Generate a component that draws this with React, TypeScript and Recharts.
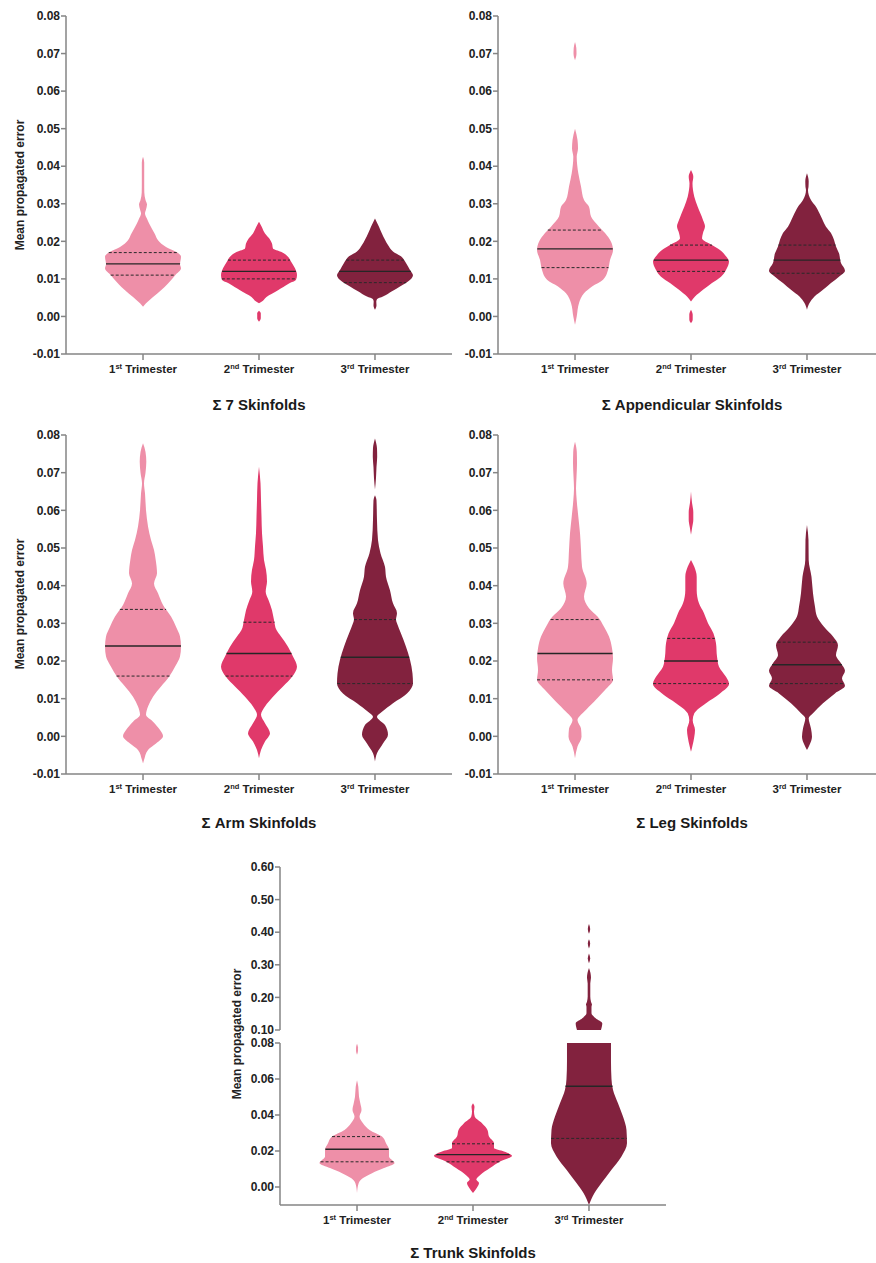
import React from 'react';
import { ComposedChart, Area, XAxis, YAxis, ReferenceLine } from 'recharts';

type Pt = [number, number];
type Seg = Pt[];
type Violin = { segs: Seg[]; q1: number; med: number; q3: number | null };

// ---------- categories & labels ----------
const catNums = [1, 2, 3];
const ordinals = ['1', '2', '3'];
const suffixes = ['st', 'nd', 'rd'];
const catWord = 'Trimester';
const colors = ['#EE8FA8', '#E0396A', '#82223E'];
const titles = ['\u03A3 7 Skinfolds', '\u03A3 Appendicular Skinfolds', '\u03A3 Arm Skinfolds', '\u03A3 Leg Skinfolds', '\u03A3 Trunk Skinfolds'];
const yLabel = 'Mean propagated error';
const ticksSmall = [-0.01, 0, 0.01, 0.02, 0.03, 0.04, 0.05, 0.06, 0.07, 0.08];
const ticksTrunkLow = [0, 0.02, 0.04, 0.06, 0.08];
const ticksTrunkHigh = [0.1, 0.2, 0.3, 0.4, 0.5, 0.6];

// ---------- violin profiles: [value, half-width density] ----------
const sk7_t1: Seg[] = [[[0.0425, 0], [0.041, 1.2], [0.038, 1.2], [0.0355, 1.2], [0.033, 1.3], [0.031, 2.5], [0.0298, 4], [0.0285, 3], [0.0274, 2], [0.026, 4], [0.0248, 6], [0.022, 11.7], [0.0203, 15], [0.0185, 23], [0.0169, 35], [0.0159, 38], [0.0139, 37], [0.0128, 38], [0.0109, 32], [0.0088, 25], [0.007, 18], [0.0052, 10], [0.0035, 3], [0.0026, 0]]];
const sk7_t2: Seg[] = [
  [[0.0252, 0], [0.0239, 2.7], [0.0221, 6], [0.0207, 10.5], [0.0194, 13], [0.0181, 14], [0.0172, 22], [0.0159, 29], [0.0146, 32], [0.0128, 36], [0.011, 38], [0.0098, 37], [0.0088, 30], [0.007, 19], [0.0052, 7.5], [0.0039, 2.5], [0.0035, 0]],
  [[0.0015, 0], [0.0008, 1.8], [-0.0005, 1.8], [-0.0014, 0]],
];
const sk7_t3: Seg[] = [[[0.0261, 0], [0.0239, 4], [0.0222, 6.7], [0.0204, 10], [0.019, 13], [0.0173, 18], [0.016, 26], [0.0142, 31], [0.0124, 35], [0.011, 38], [0.0093, 33], [0.008, 25], [0.0067, 17], [0.0053, 8], [0.0046, 2], [0.004, 1.3], [0.003, 1.5], [0.0018, 0]]];

const app_t1: Seg[] = [
  [[0.0731, 0], [0.0715, 1.3], [0.07, 1.5], [0.0682, 0]],
  [[0.05, 0], [0.047, 2.5], [0.0447, 3], [0.0425, 1.7], [0.0381, 3.3], [0.0346, 6], [0.031, 9], [0.0292, 14], [0.0266, 16], [0.0239, 24], [0.0222, 30], [0.0199, 36], [0.0177, 38], [0.015, 35], [0.0124, 33], [0.0098, 28], [0.008, 17], [0.0062, 9], [0.0036, 4], [0.0, 1.7], [-0.0022, 0]],
];
const app_t2: Seg[] = [
  [[0.039, 0], [0.0372, 2.3], [0.0354, 1.5], [0.0319, 3.3], [0.0292, 6.7], [0.0257, 12], [0.024, 14], [0.0222, 12], [0.0208, 11], [0.019, 21], [0.0177, 29], [0.016, 35], [0.0146, 38], [0.0124, 35], [0.0106, 30], [0.0089, 21], [0.0071, 12], [0.0053, 4], [0.004, 0]],
  [[0.0018, 0], [0.0005, 1.7], [-0.0008, 1.7], [-0.0018, 0]],
];
const app_t3: Seg[] = [[[0.0381, 0], [0.036, 1.7], [0.0345, 1.5], [0.0337, 1], [0.031, 4], [0.0292, 9], [0.0266, 14], [0.0239, 19], [0.0222, 24], [0.0204, 27], [0.0186, 29], [0.0168, 32], [0.0142, 34], [0.0122, 38], [0.0106, 32], [0.0089, 24], [0.0071, 16], [0.0053, 7.5], [0.0036, 2.5], [0.0018, 0]]];

const arm_t1: Seg[] = [[[0.0778, 0], [0.0755, 2.5], [0.0729, 3.3], [0.07, 2.5], [0.0672, 1], [0.0645, 2], [0.06, 3], [0.0557, 5], [0.0521, 8], [0.0495, 11], [0.0468, 12.7], [0.0433, 14], [0.0406, 11], [0.038, 15], [0.0349, 20], [0.0318, 28], [0.0291, 33], [0.0265, 37], [0.0238, 38], [0.0212, 37], [0.0185, 32], [0.0158, 26], [0.0132, 18], [0.0105, 10], [0.0079, 5], [0.0057, 3], [0.0039, 10], [0.0017, 17], [0.0001, 20], [-0.0019, 13], [-0.0036, 5], [-0.0063, 1], [-0.0072, 0]]];
const arm_t2: Seg[] = [[[0.0716, 0], [0.0672, 1.5], [0.0627, 2], [0.0583, 2.5], [0.0539, 3], [0.0504, 4], [0.0468, 5], [0.0442, 7], [0.0411, 8], [0.0384, 6.7], [0.0362, 9.5], [0.0335, 13], [0.0309, 15], [0.0282, 17.5], [0.0265, 22], [0.0238, 29], [0.0212, 34], [0.0185, 38], [0.0158, 33], [0.0132, 24], [0.0105, 14], [0.0079, 6], [0.0057, 2], [0.0035, 6], [0.0008, 11], [-0.0014, 6], [-0.0036, 2], [-0.0058, 0]]];
const arm_t3: Seg[] = [
  [[0.0791, 0], [0.0765, 2], [0.0742, 2.2], [0.0715, 1.5], [0.0685, 1], [0.0655, 0]],
  [[0.064, 0], [0.0627, 1.5], [0.0574, 2], [0.0521, 3], [0.0486, 5.5], [0.045, 10], [0.0424, 11], [0.0388, 15], [0.0353, 18], [0.0327, 22], [0.031, 21], [0.03, 22], [0.0273, 26], [0.0238, 31], [0.0203, 35], [0.0167, 37.5], [0.0141, 38], [0.0114, 32], [0.0088, 18], [0.0065, 7], [0.0052, 2], [0.003, 10], [0.0004, 13], [-0.0019, 8], [-0.0045, 2], [-0.0067, 0]],
];

const leg_t1: Seg[] = [[[0.0782, 0], [0.0755, 1.8], [0.0725, 2], [0.069, 1.5], [0.0658, 1], [0.0627, 1.7], [0.0583, 3.3], [0.0539, 5], [0.0495, 6], [0.045, 7], [0.0406, 11.7], [0.0371, 9], [0.034, 14], [0.0318, 22.5], [0.0291, 29], [0.0265, 34], [0.0234, 37], [0.0207, 38], [0.0176, 37], [0.015, 38], [0.0123, 30], [0.0092, 19], [0.0065, 9], [0.0043, 2.5], [0.0021, 6], [-0.0001, 6.5], [-0.0027, 2.5], [-0.0058, 0]]];
const leg_t2: Seg[] = [
  [[0.065, 0], [0.062, 1], [0.0595, 2.3], [0.0575, 2.3], [0.0555, 1.2], [0.0535, 0]],
  [[0.0468, 0], [0.045, 3.3], [0.0424, 5.7], [0.0388, 5.7], [0.0353, 8], [0.0327, 13], [0.03, 17], [0.0273, 22.5], [0.0247, 25], [0.0212, 26], [0.0185, 28], [0.0158, 35], [0.0139, 38], [0.0114, 29], [0.0088, 15], [0.0061, 3.3], [0.0043, 1.7], [0.0017, 4], [-0.0001, 3.3], [-0.0027, 1.3], [-0.0041, 0]],
];
const leg_t3: Seg[] = [[[0.0561, 0], [0.0521, 1.5], [0.0468, 1.7], [0.0424, 4.5], [0.038, 6], [0.0344, 8], [0.0318, 10], [0.0291, 17], [0.0265, 26], [0.0242, 31], [0.0216, 29], [0.0194, 34], [0.0174, 38], [0.0154, 35], [0.0134, 38], [0.0114, 28], [0.0088, 16], [0.0061, 6], [0.0048, 1.7], [0.0021, 4], [-0.0001, 5], [-0.0023, 2.5], [-0.0036, 0]]];

const trunk_t1: Seg[] = [
  [[0.0796, 0], [0.0775, 1], [0.0755, 1], [0.0735, 0]],
  [[0.0593, 0], [0.0557, 1.3], [0.0501, 2], [0.0465, 3.3], [0.0428, 4.5], [0.0391, 2.5], [0.0354, 6], [0.0317, 12.5], [0.028, 25], [0.0243, 29], [0.0206, 32], [0.017, 32], [0.0133, 37.5], [0.0105, 27], [0.0077, 15], [0.005, 6], [0.0022, 1.7], [-0.0033, 0]],
];
const trunk_t2: Seg[] = [[[0.0465, 0], [0.0445, 1.5], [0.042, 1], [0.0391, 1.7], [0.0354, 9], [0.0317, 14.5], [0.028, 16], [0.0243, 21], [0.0216, 21], [0.0197, 31], [0.0173, 39], [0.0142, 27], [0.0105, 17], [0.0068, 7.5], [0.0041, 3.3], [0.0022, 6], [-0.0006, 3.7], [-0.0033, 0]]];
const trunk_t3: Seg[] = [
  [[0.08, 22], [0.07, 22], [0.06, 22.5], [0.054, 24], [0.0465, 29], [0.0391, 34], [0.0317, 37.5], [0.0243, 38], [0.017, 32.5], [0.0096, 22.5], [0.0022, 12.5], [-0.0033, 5.5], [-0.01, 0]],
  [[0.425, 0], [0.41, 1.2], [0.395, 0]],
  [[0.378, 0], [0.365, 1.2], [0.35, 0]],
  [[0.335, 0], [0.32, 1.2], [0.305, 0]],
  [[0.29, 0], [0.275, 1.5], [0.26, 2], [0.243, 1.3], [0.2025, 1.3], [0.187, 2], [0.178, 3], [0.1717, 2.5], [0.1512, 2.5], [0.1359, 6.7], [0.1205, 13.3], [0.1, 12]],
];

// quartiles: [q1, median, q3]
const sk7_q = [[0.011, 0.014, 0.017], [0.01, 0.012, 0.015], [0.009, 0.012, 0.015]];
const app_q = [[0.013, 0.018, 0.023], [0.012, 0.015, 0.019], [0.0115, 0.015, 0.019]];
const arm_q = [[0.016, 0.024, 0.0337], [0.016, 0.022, 0.0303], [0.014, 0.021, 0.031]];
const leg_q = [[0.015, 0.022, 0.031], [0.014, 0.02, 0.026], [0.014, 0.019, 0.025]];
const trunk_q = [[0.014, 0.021, 0.028], [0.014, 0.018, 0.024], [0.027, 0.056, null]];

const mk = (segs: Seg[][], q: (number | null)[][]): Violin[] =>
  segs.map((s, i) => ({ segs: s, q1: q[i][0] as number, med: q[i][1] as number, q3: q[i][2] }));

const sk7 = mk([sk7_t1, sk7_t2, sk7_t3], sk7_q);
const app = mk([app_t1, app_t2, app_t3], app_q);
const arm = mk([arm_t1, arm_t2, arm_t3], arm_q);
const leg = mk([leg_t1, leg_t2, leg_t3], leg_q);
const trunk = mk([trunk_t1, trunk_t2, trunk_t3], trunk_q);

// ---------- helpers ----------
const DENS_SCALE = 116;
const FONT = '"Liberation Sans", Arial, Helvetica, sans-serif';
const AXIS_COLOR = '#858585';

function segRows(seg: Seg, center: number) {
  return [...seg]
    .sort((a, b) => b[0] - a[0])
    .map(([v, w]) => ({ v, r: [center - w / DENS_SCALE, center + w / DENS_SCALE] }));
}

function halfAt(segs: Seg[], q: number) {
  for (const seg of segs) {
    const s = [...seg].sort((a, b) => a[0] - b[0]);
    for (let i = 0; i < s.length - 1; i++) {
      if (q >= s[i][0] && q <= s[i + 1][0]) {
        const t = (q - s[i][0]) / (s[i + 1][0] - s[i][0]);
        return (s[i][1] + t * (s[i + 1][1] - s[i][1])) / DENS_SCALE;
      }
    }
  }
  return 0;
}

const TrimesterTick = (props: any) => {
  const { x, y, payload } = props;
  const i = Math.round(payload.value) - 1;
  return (
    <text x={x} y={y} dy={11} textAnchor="middle" fontSize={11.5} fontWeight="bold" fill="#222" fontFamily={FONT}>
      <tspan>{ordinals[i]}</tspan>
      <tspan dy={-4} fontSize={7.5}>{suffixes[i]}</tspan>
      <tspan dy={4}>{' ' + catWord}</tspan>
    </text>
  );
};

type PanelProps = {
  left: number;
  top: number;
  height: number;
  violins: Violin[];
  domain: [number, number];
  ticks: number[];
  hideX?: boolean;
  bottom?: number;
};

function ViolinPanel({ left, top, height, violins, domain, ticks, hideX, bottom = 0 }: PanelProps) {
  const inDom = (seg: Seg) => seg.every(([v]) => v >= domain[0] - 1e-9 && v <= domain[1] + 1e-9);
  const inRange = (v: number | null) => v != null && v >= domain[0] && v <= domain[1];
  return (
    <div style={{ position: 'absolute', left, top }}>
      <ComposedChart layout="vertical" width={460} height={height} margin={{ top: 16, right: 8, bottom, left: 0 }}>
        <XAxis
          type="number"
          domain={[0.336, 3.664]}
          allowDataOverflow
          ticks={catNums}
          tick={<TrimesterTick />}
          tickSize={6}
          tickMargin={2}
          height={26}
          hide={hideX}
          axisLine={{ stroke: AXIS_COLOR, strokeWidth: 1.5 }}
          tickLine={{ stroke: AXIS_COLOR, strokeWidth: 1.5 }}
          interval={0}
        />
        <YAxis
          type="number"
          dataKey="v"
          domain={domain}
          reversed
          allowDataOverflow
          ticks={ticks}
          interval={0}
          width={66}
          tickSize={5}
          tickMargin={1}
          tickFormatter={(t: number) => t.toFixed(2)}
          tick={{ fontSize: 12, fontWeight: 'bold', fill: '#222', fontFamily: FONT }}
          axisLine={{ stroke: AXIS_COLOR, strokeWidth: 1.5 }}
          tickLine={{ stroke: AXIS_COLOR, strokeWidth: 1.5 }}
        />
        {violins.map((vl, i) =>
          vl.segs.filter(inDom).map((seg, j) => (
            <Area
              key={`a${i}-${j}`}
              data={segRows(seg, catNums[i])}
              dataKey="r"
              type="monotone"
              fill={colors[i]}
              fillOpacity={1}
              stroke="none"
              dot={false}
              activeDot={false}
              isAnimationActive={false}
            />
          ))
        )}
        {violins.map((vl, i) => {
          const c = catNums[i];
          const lines: any[] = [];
          [vl.q1, vl.q3].forEach((q, k) => {
            if (inRange(q)) {
              const w = halfAt(vl.segs, q as number);
              lines.push(
                <ReferenceLine
                  key={`q${i}-${k}`}
                  segment={[{ x: c - w, y: q as number }, { x: c + w, y: q as number }]}
                  stroke="#2a2a2a"
                  strokeWidth={1}
                  strokeDasharray="3 2"
                />
              );
            }
          });
          if (inRange(vl.med)) {
            const w = halfAt(vl.segs, vl.med);
            lines.push(
              <ReferenceLine
                key={`m${i}`}
                segment={[{ x: c - w, y: vl.med }, { x: c + w, y: vl.med }]}
                stroke="#262626"
                strokeWidth={1.4}
              />
            );
          }
          return lines;
        })}
      </ComposedChart>
    </div>
  );
}

const Title = ({ cx, cy, text }: { cx: number; cy: number; text: string }) => (
  <div
    style={{
      position: 'absolute',
      left: cx - 150,
      top: cy - 10,
      width: 300,
      height: 20,
      lineHeight: '20px',
      textAlign: 'center',
      fontSize: 15,
      fontWeight: 'bold',
      color: '#1a1a1a',
      fontFamily: FONT,
    }}
  >
    {text}
  </div>
);

const YLabel = ({ cx, cy }: { cx: number; cy: number }) => (
  <div
    style={{
      position: 'absolute',
      left: cx - 100,
      top: cy - 8,
      width: 200,
      height: 16,
      lineHeight: '16px',
      textAlign: 'center',
      fontSize: 12,
      fontWeight: 'bold',
      color: '#222',
      fontFamily: FONT,
      transform: 'rotate(-90deg)',
    }}
  >
    {yLabel}
  </div>
);

export default function App() {
  return (
    <div
      style={{
        position: 'absolute',
        left: 0,
        top: 0,
        width: 876,
        height: 1263,
        overflow: 'hidden',
        background: '#fff',
        fontFamily: FONT,
      }}
    >
      <ViolinPanel left={0} top={0} height={380} violins={sk7} domain={[-0.01, 0.08]} ticks={ticksSmall} />
      <ViolinPanel left={432} top={0} height={380} violins={app} domain={[-0.01, 0.08]} ticks={ticksSmall} />
      <ViolinPanel left={0} top={419} height={381} violins={arm} domain={[-0.01, 0.08]} ticks={ticksSmall} />
      <ViolinPanel left={432} top={419} height={381} violins={leg} domain={[-0.01, 0.08]} ticks={ticksSmall} />
      <ViolinPanel left={214} top={1027} height={204} violins={trunk} domain={[-0.01, 0.08]} ticks={ticksTrunkLow} />
      <ViolinPanel left={214} top={851} height={189} bottom={10} violins={trunk} domain={[0.1, 0.6]} ticks={ticksTrunkHigh} hideX />

      <YLabel cx={20} cy={185} />
      <YLabel cx={20} cy={604} />
      <YLabel cx={237} cy={1034} />

      <Title cx={259} cy={405} text={titles[0]} />
      <Title cx={692} cy={405} text={titles[1]} />
      <Title cx={259} cy={823} text={titles[2]} />
      <Title cx={692} cy={823} text={titles[3]} />
      <Title cx={473} cy={1253} text={titles[4]} />
    </div>
  );
}
